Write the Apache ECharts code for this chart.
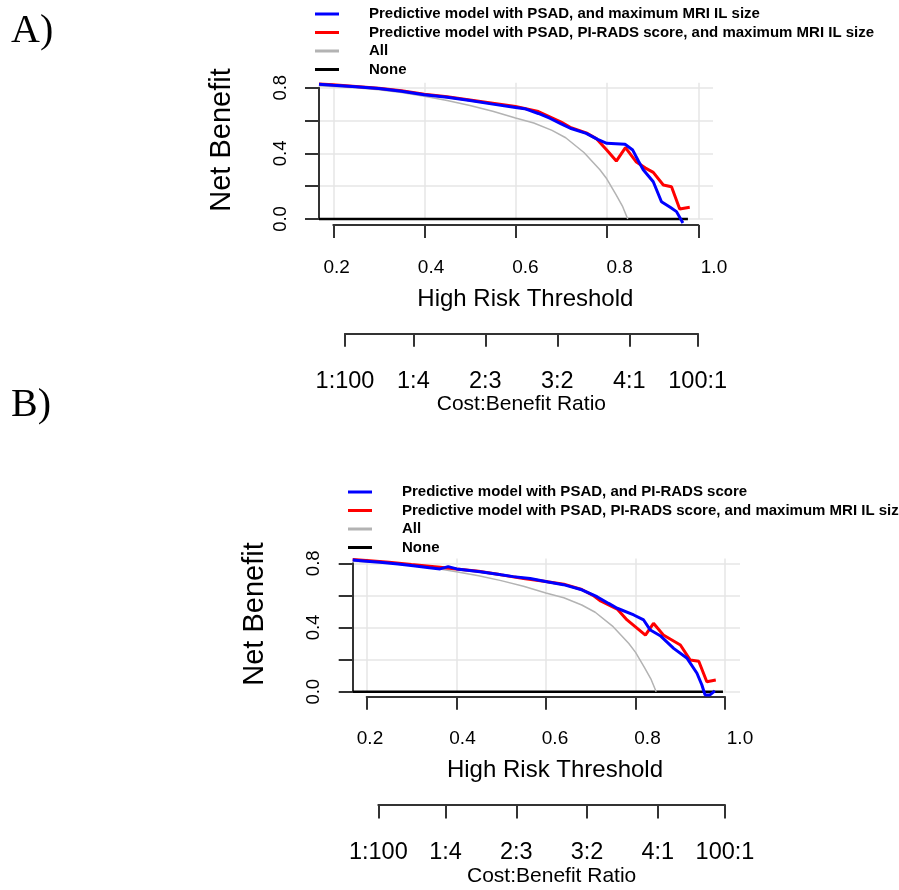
<!DOCTYPE html>
<html>
<head>
<meta charset="utf-8">
<script src="https://cdn.jsdelivr.net/npm/echarts@6/dist/echarts.min.js"></script>
<style>
html, body { margin: 0; padding: 0; background: #fff; }
#main { width: 899px; height: 890px; }
</style>
</head>
<body>
<div id="main"></div>
<script>
// net benefit of treating everyone (same cohort in both panels)
var allNB = [[0.169,0.812],[0.25,0.80],[0.3,0.787],[0.35,0.77],[0.4,0.748],[0.45,0.722],[0.5,0.692],
  [0.55,0.657],[0.6,0.615],[0.64,0.585],[0.68,0.54],[0.71,0.495],[0.75,0.405],[0.785,0.30],
  [0.80,0.245],[0.82,0.15],[0.835,0.075],[0.846,0.0]];

// panel A
var blueA = [[0.169,0.821],[0.2,0.815],[0.25,0.806],[0.3,0.795],[0.35,0.778],[0.4,0.757],[0.45,0.742],
  [0.5,0.722],[0.55,0.70],[0.6,0.68],[0.62,0.672],[0.65,0.643],[0.675,0.614],[0.7,0.58],[0.72,0.553],
  [0.755,0.522],[0.78,0.485],[0.8,0.461],[0.82,0.458],[0.84,0.455],[0.857,0.42],[0.87,0.35],[0.88,0.30],
  [0.902,0.227],[0.92,0.105],[0.94,0.07],[0.953,0.045],[0.967,-0.025]];
var redA = [[0.169,0.823],[0.2,0.818],[0.25,0.808],[0.3,0.797],[0.35,0.782],[0.4,0.76],[0.45,0.745],
  [0.5,0.725],[0.55,0.705],[0.6,0.685],[0.65,0.655],[0.7,0.59],[0.72,0.558],[0.755,0.525],[0.777,0.49],
  [0.8,0.42],[0.821,0.353],[0.841,0.435],[0.865,0.347],[0.885,0.31],[0.902,0.284],[0.924,0.207],
  [0.942,0.197],[0.96,0.061],[0.982,0.071]];
var noneA = [[0.169,0],[0.978,0]];

// panel B
var blueB = [[0.169,0.82],[0.2,0.813],[0.23,0.806],[0.27,0.795],[0.304,0.785],[0.34,0.772],[0.364,0.765],
  [0.382,0.779],[0.401,0.765],[0.453,0.748],[0.5,0.728],[0.527,0.717],[0.565,0.705],[0.605,0.683],
  [0.639,0.667],[0.68,0.635],[0.714,0.592],[0.74,0.55],[0.759,0.52],[0.796,0.478],[0.818,0.447],
  [0.833,0.384],[0.855,0.349],[0.885,0.27],[0.915,0.208],[0.937,0.115],[0.948,0.042],[0.955,-0.02],
  [0.966,-0.02],[0.977,0.005]];
var redB = [[0.169,0.823],[0.2,0.818],[0.25,0.806],[0.3,0.792],[0.34,0.782],[0.364,0.776],[0.4,0.765],
  [0.45,0.75],[0.5,0.728],[0.55,0.705],[0.6,0.686],[0.64,0.67],[0.68,0.637],[0.705,0.6],[0.722,0.565],
  [0.759,0.515],[0.781,0.447],[0.822,0.353],[0.84,0.426],[0.862,0.353],[0.9,0.291],[0.922,0.197],
  [0.941,0.19],[0.959,0.062],[0.979,0.073]];
var noneB = [[0.169,0],[0.995,0]];

var cbTicks = [0.01, 0.2, 0.4, 0.6, 0.8, 0.99];
var cbLabels = ['1:100', '1:4', '2:3', '3:2', '4:1', '100:1'];
var nbLabels = [0, 0.4, 0.8];

var nameBlueA = 'Predictive model with PSAD, and maximum MRI IL size';
var nameBlueB = 'Predictive model with PSAD, and PI-RADS score';
var nameRed = 'Predictive model with PSAD, PI-RADS score, and maximum MRI IL size';

var FONT = '"Liberation Sans", Arial, sans-serif';
var AXIS = '#333';
var GRIDC = '#e6e6e6';

var grids = [], xAxes = [], yAxes = [], series = [], legends = [], graphics = [];

function hidden(gi, min, max) {
  return { gridIndex: gi, type: 'value', min: min, max: max, show: false };
}

function addPanel(p) {
  var g = grids.length;
  var ppu = (p.y0 - p.yTop) / 0.8;
  // data grid
  var top = p.y0 - 0.83 * ppu, bot = p.y0 + 0.05 * ppu;
  grids.push({ left: p.dataL, top: top, width: p.dataR - p.dataL, height: bot - top });
  xAxes.push(hidden(g, 0.169, 1.033));
  yAxes.push(hidden(g, -0.05, 0.83));
  // y axis + horizontal grid
  grids.push({ left: p.dataL, top: p.yTop, width: p.dataR - p.dataL, height: p.y0 - p.yTop });
  xAxes.push(hidden(g + 1, 0, 1));
  yAxes.push({
    gridIndex: g + 1, type: 'value', min: 0, max: 0.8, interval: 0.2, position: 'left',
    axisLine: { show: true, onZero: false, lineStyle: { color: AXIS, width: 2 } },
    axisTick: { show: true, length: 14, lineStyle: { color: AXIS, width: 2 } },
    axisLabel: {
      rotate: 90, margin: 29, fontSize: 18.5, fontFamily: FONT, color: '#000',
      formatter: function (v) {
        var r = Math.round(v * 10) / 10;
        return nbLabels.indexOf(r) >= 0 ? r.toFixed(1) : '';
      }
    },
    splitLine: { show: true, lineStyle: { color: GRIDC, width: 1.5 } }
  });
  // threshold axis line, ticks + vertical grid
  grids.push({ left: p.xL, top: top, width: p.xR - p.xL, height: p.y0 - top });
  xAxes.push({
    gridIndex: g + 2, type: 'value', min: 0.2, max: 1.0, interval: 0.2, position: 'bottom', offset: p.xGap,
    axisLine: { show: true, onZero: false, lineStyle: { color: AXIS, width: 2 } },
    axisTick: { show: true, length: 13, lineStyle: { color: AXIS, width: 2 } },
    axisLabel: { show: false },
    splitLine: { show: true, lineStyle: { color: GRIDC, width: 1.5 } }
  });
  yAxes.push(hidden(g + 2, 0, 1));
  // threshold labels (spread a little wider than the ticks in the original)
  grids.push({ left: p.labL, top: top, width: p.labR - p.labL, height: p.y0 - top });
  xAxes.push({
    gridIndex: g + 3, type: 'value', min: 0.2, max: 1.0, interval: 0.2, position: 'bottom', offset: p.xGap,
    axisLine: { show: false }, axisTick: { show: false }, splitLine: { show: false },
    axisLabel: { margin: 33, fontSize: 19, fontFamily: FONT, color: '#000', formatter: function (v) { return v.toFixed(1); } },
    name: 'High Risk Threshold', nameLocation: 'middle', nameGap: 62,
    nameTextStyle: { fontSize: 24, fontFamily: FONT, color: '#000' }
  });
  yAxes.push(hidden(g + 3, 0, 1));
  // cost:benefit axis
  grids.push({ left: p.cbL, top: p.cbY - 1, width: p.cbR - p.cbL, height: 1 });
  xAxes.push({
    gridIndex: g + 4, type: 'value', min: 0.01, max: 0.99, position: 'bottom',
    axisLine: { show: true, onZero: false, lineStyle: { color: AXIS, width: 2 } },
    axisTick: { show: true, length: 13.5, customValues: cbTicks, lineStyle: { color: AXIS, width: 2 } },
    axisLabel: {
      customValues: cbTicks, margin: 36, fontSize: 23.5, fontFamily: FONT, color: '#000',
      formatter: function (v) {
        for (var i = 0; i < cbTicks.length; i++) if (Math.abs(cbTicks[i] - v) < 1e-6) return cbLabels[i];
        return '';
      }
    },
    splitLine: { show: false },
    name: 'Cost:Benefit Ratio', nameLocation: 'middle', nameGap: 56,
    nameTextStyle: { fontSize: 21, fontFamily: FONT, color: '#000' }
  });
  yAxes.push(hidden(g + 4, 0, 1));

  function line(name, data, color, width, z) {
    series.push({
      name: name, type: 'line', xAxisIndex: g, yAxisIndex: g, data: data,
      symbol: 'none', showSymbol: false, silent: true, z: z,
      lineStyle: { color: color, width: width }, itemStyle: { color: color }
    });
  }
  line('None', p.none, '#000', 2.5, 2);
  line('All', allNB, '#b3b3b3', 1.5, 3);
  line(nameRed, p.red, '#ff0000', 3, 4);
  line(p.blueName, p.blue, '#0000ff', 3, 5);

  legends.push({
    orient: 'vertical', left: p.legL, top: p.legT, itemWidth: 24, itemHeight: 3, itemGap: 0.5,
    icon: 'rect', selectedMode: false,
    data: [p.blueName, nameRed, 'All', 'None'],
    textStyle: { fontSize: 15, fontWeight: 'bold', fontFamily: FONT, color: '#000', lineHeight: 18, padding: [0, 0, 0, 25] }
  });

  graphics.push({
    type: 'text', x: p.nbX, y: p.nbY, rotation: Math.PI / 2,
    style: { text: 'Net Benefit', fontSize: 29, fontFamily: FONT, fill: '#000',
      align: 'center', verticalAlign: 'middle', textAlign: 'center', textVerticalAlign: 'middle' }
  });
  graphics.push({
    type: 'text', x: 11, y: p.tagY,
    style: { text: p.tag, fontSize: 40, fontFamily: '"Liberation Serif", "Times New Roman", serif', fill: '#000',
      align: 'left', verticalAlign: 'middle', textAlign: 'left', textVerticalAlign: 'middle' }
  });
}

addPanel({
  tag: 'A)', tagY: 31,
  dataL: 319, dataR: 713, yTop: 87.7, y0: 219, xL: 333.3, xR: 698.3, xGap: 6, labL: 336.7, labR: 714,
  cbL: 345, cbR: 697.7, cbY: 333.3, legL: 310, legT: 0, nbX: 222, nbY: 140,
  blueName: nameBlueA, blue: blueA, red: redA, none: noneA
});
addPanel({
  tag: 'B)', tagY: 405,
  dataL: 352.7, dataR: 740, yTop: 563.3, y0: 691.7, xL: 366.7, xR: 725, xGap: 5, labL: 370, labR: 740,
  cbL: 378.3, cbR: 725, cbY: 805, legL: 343, legT: 478, nbX: 255, nbY: 614,
  blueName: nameBlueB, blue: blueB, red: redB, none: noneB
});

var chart = echarts.init(document.getElementById('main'));
chart.setOption({
  animation: false,
  backgroundColor: '#fff',
  grid: grids,
  xAxis: xAxes,
  yAxis: yAxes,
  legend: legends,
  graphic: graphics,
  series: series
});
</script>
</body>
</html>
